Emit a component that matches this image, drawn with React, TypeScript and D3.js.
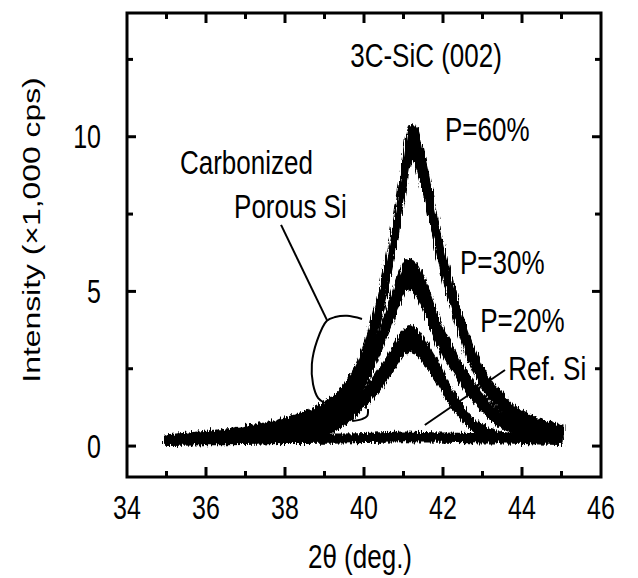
import { useEffect, useRef } from 'react';
import * as d3 from 'd3';

// [2θ (deg.), intensity (x1,000 cps), half-width of the noise band]
const p60: number[][] = [
  [35.0, 0.20, 0.12], [35.5, 0.24, 0.13], [36.0, 0.29, 0.14], [36.5, 0.35, 0.15],
  [37.0, 0.43, 0.16], [37.5, 0.53, 0.18], [38.0, 0.66, 0.2], [38.5, 0.85, 0.22],
  [39.0, 1.12, 0.25], [39.4, 1.5, 0.28], [39.8, 2.2, 0.3], [40.0, 2.8, 0.32],
  [40.2, 3.6, 0.35], [40.4, 4.6, 0.38], [40.6, 5.7, 0.4], [40.8, 7.0, 0.42],
  [41.0, 8.6, 0.45], [41.2, 9.8, 0.55], [41.3, 9.75, 0.55], [41.45, 9.1, 0.5],
  [41.6, 8.3, 0.45], [41.8, 7.1, 0.42], [42.0, 6.0, 0.4], [42.2, 5.0, 0.38],
  [42.4, 4.1, 0.35], [42.7, 3.0, 0.3], [43.0, 2.2, 0.28], [43.3, 1.65, 0.25],
  [43.6, 1.25, 0.22], [44.0, 0.9, 0.2], [44.5, 0.62, 0.18], [45.0, 0.45, 0.17],
];

const p30: number[][] = [
  [35.0, 0.18, 0.1], [36.0, 0.21, 0.1], [37.0, 0.27, 0.11], [37.5, 0.33, 0.12],
  [38.0, 0.42, 0.14], [38.5, 0.58, 0.16], [39.0, 0.85, 0.2], [39.4, 1.2, 0.22],
  [39.8, 1.8, 0.25], [40.1, 2.5, 0.28], [40.4, 3.4, 0.32], [40.7, 4.4, 0.36],
  [40.9, 5.1, 0.4], [41.1, 5.55, 0.45], [41.3, 5.4, 0.45], [41.5, 4.95, 0.42],
  [41.8, 3.95, 0.38], [42.0, 3.35, 0.35], [42.25, 2.8, 0.32], [42.5, 2.25, 0.28],
  [42.75, 1.8, 0.25], [43.0, 1.4, 0.22], [43.35, 0.95, 0.2], [43.7, 0.68, 0.17],
  [44.0, 0.54, 0.15], [44.5, 0.4, 0.13], [45.0, 0.32, 0.12],
];

const p20: number[][] = [
  [35.0, 0.15, 0.08], [36.0, 0.17, 0.08], [37.0, 0.19, 0.09], [38.0, 0.26, 0.1],
  [38.5, 0.36, 0.12], [39.0, 0.55, 0.15], [39.4, 0.82, 0.18], [39.8, 1.25, 0.2],
  [40.2, 1.85, 0.24], [40.5, 2.35, 0.28], [40.8, 2.95, 0.32], [41.0, 3.35, 0.35],
  [41.15, 3.5, 0.38], [41.3, 3.4, 0.36], [41.5, 3.1, 0.33], [41.7, 2.7, 0.3],
  [41.9, 2.3, 0.27], [42.1, 1.8, 0.24], [42.35, 1.3, 0.2], [42.6, 0.9, 0.17],
  [42.85, 0.6, 0.14], [43.1, 0.42, 0.12], [43.5, 0.3, 0.1], [44.0, 0.24, 0.1],
  [45.0, 0.2, 0.1],
];

const refSi: number[][] = [
  [35, 0.2, 0.1], [36, 0.21, 0.1], [37, 0.22, 0.1], [38, 0.23, 0.1],
  [39, 0.24, 0.1], [40, 0.26, 0.1], [41, 0.3, 0.11], [42, 0.27, 0.1],
  [43, 0.25, 0.1], [44, 0.24, 0.1], [45, 0.23, 0.1],
];

const xLabels = [34, 36, 38, 40, 42, 44, 46];
const xMinor = [35, 37, 39, 41, 43, 45];
const yLabels = [0, 5, 10];
const yMinor = [2.5, 7.5, 12.5];

// annotation text, anchored at start, baseline in data units
const notes = [
  { text: '3C-SiC (002)', x: 39.65, y: 12.27 },
  { text: 'P=60%', x: 42.05, y: 9.87 },
  { text: 'P=30%', x: 42.43, y: 5.57 },
  { text: 'P=20%', x: 42.94, y: 3.69 },
  { text: 'Ref. Si', x: 43.65, y: 2.14 },
  { text: 'Carbonized', x: 35.34, y: 8.8 },
  { text: 'Porous Si', x: 36.71, y: 7.38 },
];

const refLeader = [[43.57, 2.46], [41.54, 0.68]];
const porousLeader = [[37.9, 7.15], [39.06, 4.08]];
const loop = [
  [39.95, 4.11], [39.57, 4.21], [39.27, 4.17], [39.06, 4.05], [38.81, 3.4],
  [38.68, 2.65], [38.71, 2.0], [38.84, 1.55], [39.01, 1.39],
];
const hook = [[40.1, 1.2], [40.08, 0.97], [39.95, 0.87], [39.7, 0.81]];

const FONT = 'Liberation Sans, Arial, sans-serif';
const STRETCH = 1.3;

export default function App() {
  const svgRef = useRef<SVGSVGElement>(null);

  useEffect(() => {
    const svg = d3.select(svgRef.current);
    svg.selectAll('*').remove();

    const x = d3.scaleLinear().domain([34, 46]).range([127, 601]);
    const y = d3.scaleLinear().domain([-1, 14]).range([477, 13]);

    // grainy look of the raw counts
    const filter = svg.append('defs').append('filter')
      .attr('id', 'grain')
      .attr('filterUnits', 'userSpaceOnUse')
      .attr('x', 0).attr('y', 0).attr('width', 638).attr('height', 578);
    filter.append('feTurbulence')
      .attr('type', 'fractalNoise')
      .attr('baseFrequency', '0.7 0.06')
      .attr('numOctaves', 2)
      .attr('seed', 4)
      .attr('result', 'n');
    filter.append('feDisplacementMap')
      .attr('in', 'SourceGraphic')
      .attr('in2', 'n')
      .attr('scale', 8)
      .attr('xChannelSelector', 'R')
      .attr('yChannelSelector', 'G');

    const line = d3.line<number[]>().x((d) => x(d[0])).y((d) => y(d[1]));
    const smooth = d3.line<number[]>().x((d) => x(d[0])).y((d) => y(d[1])).curve(d3.curveCatmullRom);

    // Ref. Si leader sits under the curves
    svg.append('path').attr('d', line(refLeader)).attr('fill', 'none').attr('stroke', '#000').attr('stroke-width', 2);
    svg.append('path').attr('d', line(porousLeader)).attr('fill', 'none').attr('stroke', '#000').attr('stroke-width', 2);

    const band = d3.area<number[]>()
      .x((d) => x(d[0]))
      .y0((d) => y(d[1] - d[2]))
      .y1((d) => y(d[1] + d[2]))
      .curve(d3.curveMonotoneX);

    const g = svg.append('g').attr('filter', 'url(#grain)');
    [refSi, p20, p30, p60].forEach((s) => {
      g.append('path')
        .attr('d', band(s))
        .attr('fill', '#000')
        .attr('stroke', '#000')
        .attr('stroke-width', 4)
        .attr('stroke-linejoin', 'round');
    });

    svg.append('path').attr('d', smooth(loop)).attr('fill', 'none').attr('stroke', '#000').attr('stroke-width', 2);
    svg.append('path').attr('d', smooth(hook)).attr('fill', 'none').attr('stroke', '#000').attr('stroke-width', 2);

    // frame + inward ticks
    const [x0, x1] = x.range();
    const [yb, yt] = y.range();
    svg.append('rect')
      .attr('x', x0).attr('y', yt).attr('width', x1 - x0).attr('height', yb - yt)
      .attr('fill', 'none').attr('stroke', '#000').attr('stroke-width', 3);

    const ticks = svg.append('g').attr('stroke', '#000').attr('stroke-width', 3);
    const xt = [...xLabels.slice(1, -1).map((v) => [v, 10]), ...xMinor.map((v) => [v, 6])];
    xt.forEach(([v, len]) => {
      ticks.append('line').attr('x1', x(v)).attr('x2', x(v)).attr('y1', yb).attr('y2', yb - len);
      ticks.append('line').attr('x1', x(v)).attr('x2', x(v)).attr('y1', yt).attr('y2', yt + len);
    });
    const yt2 = [...yLabels.map((v) => [v, 9]), ...yMinor.map((v) => [v, 6])];
    yt2.forEach(([v, len]) => {
      ticks.append('line').attr('y1', y(v)).attr('y2', y(v)).attr('x1', x0).attr('x2', x0 + len);
      ticks.append('line').attr('y1', y(v)).attr('y2', y(v)).attr('x1', x1).attr('x2', x1 - len);
    });

    const put = (text: string, px: number, py: number, anchor: string, size: number, rotate = 0) => {
      svg.append('g')
        .attr('transform', `translate(${px},${py}) scale(1,${STRETCH})`)
        .append('text')
        .attr('transform', rotate ? `rotate(${rotate})` : null)
        .attr('text-anchor', anchor)
        .attr('font-family', FONT)
        .attr('font-size', size)
        .attr('fill', '#000')
        .text(text);
    };

    xLabels.forEach((v) => put(String(v), x(v), 519, 'middle', 25));
    yLabels.forEach((v) => put(String(v), 101, y(v) + 11.5, 'end', 25));
    notes.forEach((n) => put(n.text, x(n.x), y(n.y), 'start', 26));
    put('2θ (deg.)', 360, 568, 'middle', 26);
    put('Intensity (×1,000 cps)', 40, 230, 'middle', 24.5, -90);
  }, []);

  return (
    <div style={{ position: 'fixed', left: 0, top: 0 }}>
      <svg ref={svgRef} width={638} height={578} style={{ display: 'block', background: '#fff' }} />
    </div>
  );
}
